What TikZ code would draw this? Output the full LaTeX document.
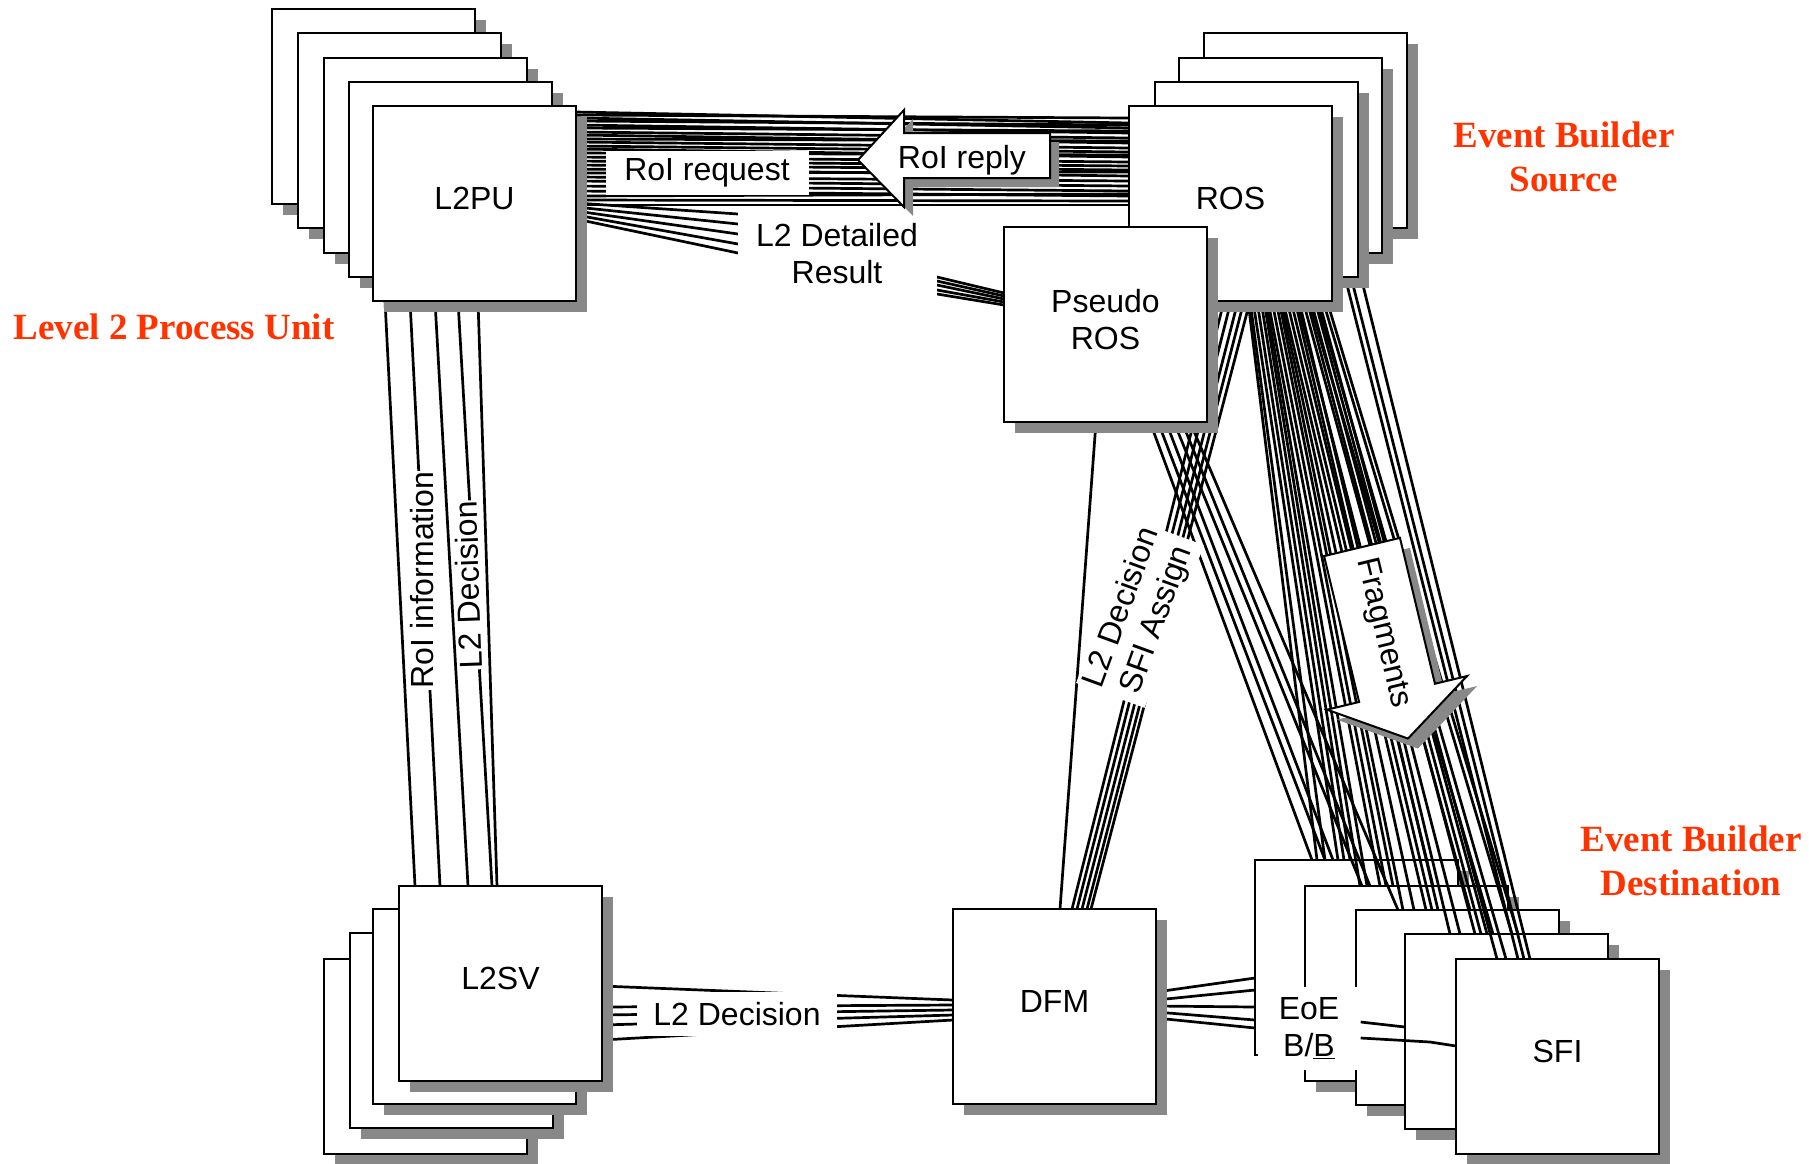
\documentclass[tikz,border=0pt]{standalone}
\usepackage{fontspec}
\setmainfont{Liberation Sans}
\newfontfamily\redserif{Liberation Serif}
\usetikzlibrary{calc,shadows}
\definecolor{shgray}{RGB}{136,136,136}
\definecolor{redlab}{RGB}{255,51,0}
\pgfdeclarelayer{bg}
\pgfdeclarelayer{lines}
\pgfdeclarelayer{fg}
\pgfsetlayers{bg,lines,main,fg}
\newcommand{\boxfont}{\fontsize{32}{37}\selectfont}
\begin{document}
\begin{tikzpicture}[x=1pt,y=-1pt,
  box/.style={draw, line width=2pt, fill=white, minimum width=203pt, minimum height=195pt,
    inner sep=0pt, outer sep=0pt, anchor=north west, align=center, font=\boxfont, text depth=10pt,
    drop shadow={shadow xshift=11pt, shadow yshift=-11pt, fill=shgray, opacity=1}},
  conn/.style={line width=2.7pt, black},
  lbl/.style={fill=white, inner sep=2pt, font=\boxfont},
  redlbl/.style={text=redlab, align=center, font=\redserif\bfseries\fontsize{37}{44}\selectfont},
  arrowshape/.style={draw, line width=2pt, fill=white, line join=miter}
]
\useasboundingbox (0,0) rectangle (1809,1163);

% ---------- background layer: white page and SFI stack ----------
\begin{pgfonlayer}{bg}
\fill[white] (0,0) rectangle (1809,1163);
\node[box] (eb1) at (1255,860) {};
\node[box] (eb2) at (1305,886) {};
\node[box] (eb3) at (1356,910) {};
\node[box] (eb4) at (1405,934) {};
\node[box] (sfi) at (1456,959) {SFI};
\end{pgfonlayer}

% ---------- main boxes ----------
\node[box] (l2pu4) at (272,9) {};
\node[box] (l2pu3) at (298,33) {};
\node[box] (l2pu2) at (324,58) {};
\node[box] (l2pu1) at (349,82) {};
\node[box] (l2pu) at (373,106) {L2PU};

\node[box] (ros3) at (1204,33) {};
\node[box] (ros2) at (1179,58) {};
\node[box] (ros1) at (1155,82) {};
\node[box] (ros) at (1129,106) {ROS};
\node[box] (pros) at (1004,227) {Pseudo\\ROS};

\node[box] (l2sv3) at (324,959) {};
\node[box] (l2sv2) at (350,933) {};
\node[box] (l2sv1) at (373,909) {};
\node[box] (l2sv) at (399,886) {L2SV};

\node[box] (dfm) at (953,909) {DFM};

% ---------- connectors ----------
\begin{pgfonlayer}{lines}
% L2PU <-> ROS bundle
\foreach \a/\b in {6/17, 9/12, 12/22, 15/19, 19/27, 22/25, 26/32, 29/37, 33/35, 36/42,
                   40/46, 43/51, 47/49, 51/56, 55/60, 59/64, 63/70, 67/66, 71/75, 75/80,
                   80/85, 85/90, 90/88, 94/95, 99/99}
  \draw[conn] ($(l2pu.north east)+(0,\a)$) -- ($(ros.north west)+(0,\b)$);
% L2PU -> Pseudo ROS (L2 detailed result)
\foreach \a/\b/\c/\d in {97/214/277/66, 101/224/281/69, 105/234/285/72, 109/244/290/75, 113/253/294/78}
  \draw[conn] ($(l2pu.north east)+(0,\a)$) -- (738,\b) -- (937,\c) -- ($(pros.north west)+(0,\d)$);
% L2PU <-> L2SV
\foreach \a/\b in {12/16, 37/41, 62/69, 85/93, 105/98}
  \draw[conn] ($(l2pu.south west)+(\a,0)$) -- ($(l2sv.north west)+(\b,0)$);
% L2SV <-> DFM
\draw[conn] ($(l2sv.north east)+(0,100)$) -- (800,994) -- ($(dfm.north west)+(0,91)$);
\foreach \a/\b in {121/96, 129/101, 139/106, 154/111}
  \draw[conn] ($(l2sv.north east)+(0,\a)$) -- ($(dfm.north west)+(0,\b)$);
% DFM <-> EoE
\foreach \a/\b in {83/118, 91/130, 97/147, 103/160, 109/168}
  \draw[conn] ($(dfm.north east)+(0,\a)$) -- ($(eb1.north west)+(0,\b)$);
% ROS -> SFI (fragments)
\foreach \s/\n/\t in {119/eb1/62, 121/eb1/70, 124/eb1/83, 128/eb1/89, 132/eb1/95,
                      135/eb2/55, 137/eb2/62, 139/eb2/75, 143/eb2/81, 147/eb2/88,
                      150/eb3/47, 152/eb3/58, 154/eb3/70, 158/eb3/76, 162/eb2/128, 166/eb3/82,
                      168/eb4/55, 170/eb4/45, 174/eb3/114, 178/eb4/70, 180/eb4/88, 182/eb4/76, 186/eb4/82,
                      188/sfi/50, 190/sfi/41, 194/eb4/107, 198/eb4/113}
  \draw[conn] ($(ros.south west)+(\s,0)$) -- ($(\n.north west)+(\t,0)$);
\draw[conn] ($(ros1.south west)+(190,0)$) -- ($(sfi.north west)+(62,0)$);
\draw[conn] ($(ros1.south west)+(196,0)$) -- ($(sfi.north west)+(68,0)$);
\draw[conn] ($(ros2.south west)+(176,0)$) -- ($(sfi.north west)+(74,0)$);
% Pseudo ROS -> SFI
\foreach \s/\n/\t in {146/eb1/57, 154/eb1/70, 162/eb1/78, 170/eb2/57, 178/eb2/65, 186/eb3/42}
  \draw[conn] ($(pros.south west)+(\s,0)$) -- ($(\n.north west)+(\t,0)$);
% ROS -> DFM (L2 decision / SFI assign)
\foreach \s/\t in {95/119, 102/124, 109/129, 115/134, 121/138}
  \draw[conn] ($(ros.south west)+(\s,0)$) -- ($(dfm.north west)+(\t,0)$);
% Pseudo ROS -> DFM
\draw[conn] ($(pros.south west)+(92,0)$) -- ($(dfm.north west)+(107,0)$);
\end{pgfonlayer}

% ---------- labels ----------
\begin{pgfonlayer}{fg}
\node[lbl, minimum width=203pt, minimum height=44pt] (rreq) at (707,173) {RoI request};
\node[lbl, align=center, minimum width=199pt, minimum height=86pt] (ldr) at (837,254) {L2 Detailed\\Result};
\node[lbl, rotate=90, inner sep=1pt] (rinfo) at (422,580) {RoI information};
\node[lbl, rotate=92, inner sep=1pt] (l2dv) at (468,585) {L2 Decision};
\node[lbl, minimum width=200pt, minimum height=44pt] (l2dh) at (737,1014) {L2 Decision};
\node[lbl, rotate=70, align=center, inner sep=3pt] (sfia) at (1140,614) {L2 Decision\\SFI Assign};
\node[lbl, align=center, minimum width=103pt, minimum height=83pt, inner sep=0pt] (eoe) at (1309,1028) {EoE\\B/\underline{B}};
\draw[conn] ($(eoe.east)+(0,-6)$) -- ($(eb4.north west)+(0,93)$);
\draw[conn] ($(eoe.east)+(0,10)$) -- (1430,1042) -- ($(sfi.north west)+(0,87)$);

% RoI reply arrow
\fill[shgray] (867,169) -- (913,119) -- (913,142) -- (1059,142) -- (1059,187) -- (913,187) -- (913,216) -- cycle;
\draw[arrowshape] (858,160) -- (904,110) -- (904,133) -- (1050,133) -- (1050,178) -- (904,178) -- (904,207) -- cycle;
\node[font=\boxfont] (rrep) at (962,160) {RoI reply};

% Fragments arrow
\begin{scope}[shift={(1372,557)}, rotate=-76.5]
  \fill[shgray] (0,-39) -- (150,-39) -- (150,-72) -- (197,0) -- (150,72) -- (150,39) -- (0,39) -- cycle;
\end{scope}
\begin{scope}[shift={(1362,547)}, rotate=-76.5]
  \draw[arrowshape] (0,-39) -- (150,-39) -- (150,-72) -- (197,0) -- (150,72) -- (150,39) -- (0,39) -- cycle;
\end{scope}
\node[font=\boxfont, rotate=-76.5] (frag) at (1383,633) {Fragments};

% red titles
\node[redlbl] (lvl2) at (174,327) {Level 2 Process Unit};
\node[redlbl] (ebs) at (1564,157) {Event Builder\\Source};
\node[redlbl] (ebd) at (1691,861) {Event Builder\\Destination};
\end{pgfonlayer}
\end{tikzpicture}
\end{document}
